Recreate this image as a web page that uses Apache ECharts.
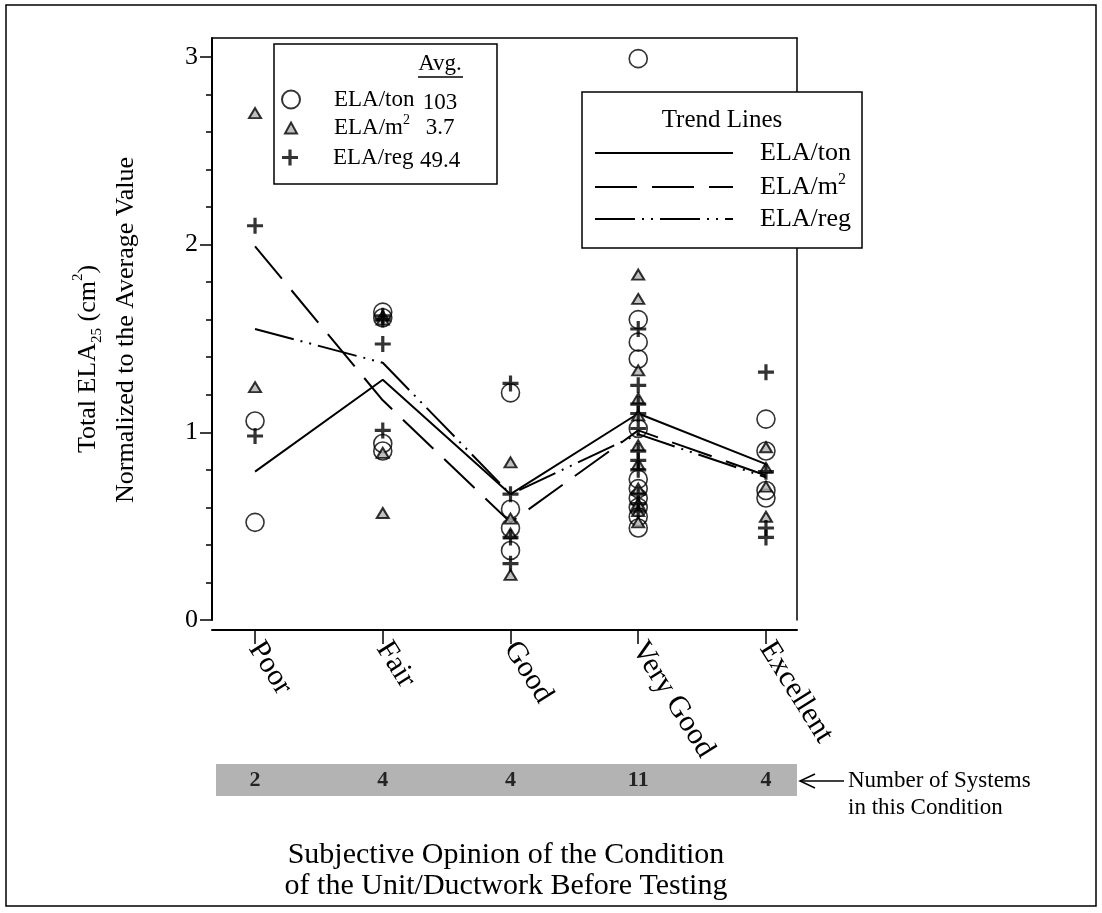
<!DOCTYPE html>
<html><head><meta charset="utf-8">
<script src="https://cdn.jsdelivr.net/npm/echarts@6/dist/echarts.min.js"></script>
<style>html,body{margin:0;padding:0;background:#fff}#c{width:1102px;height:913px}</style>
</head><body><div id="c"></div>
<script>
// ---------- data ----------
const categories = ['Poor', 'Fair', 'Good', 'Very Good', 'Excellent'];
const systemCounts = [2, 4, 4, 11, 4];
const elaTon = [
  [1.06, 0.52],
  [1.64, 1.61, 0.94, 0.90],
  [1.21, 0.59, 0.49, 0.37],
  [2.99, 1.60, 1.48, 1.39, 1.02, 0.75, 0.70, 0.65, 0.60, 0.55, 0.49],
  [1.07, 0.90, 0.69, 0.65]
];
const elaM2 = [
  [2.70, 1.24],
  [1.62, 1.60, 0.89, 0.57],
  [0.84, 0.54, 0.46, 0.24],
  [1.84, 1.71, 1.33, 1.18, 1.09, 0.93, 0.83, 0.70, 0.62, 0.58, 0.52],
  [0.92, 0.81, 0.71, 0.55]
];
const elaReg = [
  [2.10, 0.98],
  [1.62, 1.60, 1.47, 1.01],
  [1.26, 0.67, 0.44, 0.30],
  [1.55, 1.25, 1.15, 1.10, 1.02, 0.90, 0.85, 0.80, 0.67, 0.62, 0.58],
  [1.32, 0.79, 0.49, 0.44]
];
const trendTon = [0.79, 1.28, 0.67, 1.10, 0.83];
const trendM2 = [1.99, 1.17, 0.52, 1.01, 0.77];
const trendReg = [1.55, 1.37, 0.67, 0.99, 0.76];
const seriesNames = ['ELA/ton', 'ELA/m2', 'ELA/reg'];
const averages = ['103', '3.7', '49.4'];
const yMajorTicks = [0, 1, 2, 3];
const yMinorTicks = [0.2, 0.4, 0.6, 0.8, 1.2, 1.4, 1.6, 1.8, 2.2, 2.4, 2.6, 2.8];
const categoryPositions = [1, 2, 3, 4, 5];

// ---------- helpers ----------
const FONT = 'Liberation Serif';
const X_MIN = 0.663, X_MAX = 5.243, Y_MIN = 0, Y_MAX = 3.1;
const toPoints = arr => arr.flatMap((vals, i) => vals.map(v => [categoryPositions[i], v]));
const toLine = arr => arr.map((v, i) => [categoryPositions[i], v]);
const PLUS = 'path://M8,0H12V8H20V12H12V20H8V12H0V8H8Z';
const rich = (pad, fs) => ({
  t: {fontFamily: FONT, fontSize: fs, color: '#000', lineHeight: 30, padding: [0, 0, 0, pad]},
  s: {fontFamily: FONT, fontSize: Math.round(fs * 0.6), color: '#000', verticalAlign: 'top', lineHeight: 30}
});
const labelText = n => n === 'ELA/m2' ? '{t|ELA/m}{s|2}' : '{t|' + n + '}';

// legend rows (icon centre x = 290, text start x = 333)
const avgRows = [
  {size: [18, 18], top: 88},
  {size: [12, 11], top: 113},
  {size: [16, 16], top: 146}
];
function avgLegend(i) {
  const w = avgRows[i].size[0], h = avgRows[i].size[1];
  const left = 290 - w / 2;
  return {
    data: [seriesNames[i]], orient: 'vertical', left: left, top: avgRows[i].top, padding: 0,
    itemWidth: w, itemHeight: h, selectedMode: false,
    formatter: labelText,
    textStyle: {rich: rich(333 - (left + w + 5), 23)}
  };
}
const rowCentres = [103, 128, 161];

const chart = echarts.init(document.getElementById('c'), null, {renderer: 'canvas'});
const option = {
  animation: false,
  backgroundColor: '#fff',
  grid: [
    {left: 212, top: 38, width: 585, height: 582, outerBoundsMode: 'none'},
    {left: 216, top: 764, width: 581, height: 32, show: true, backgroundColor: '#b3b3b3', borderWidth: 0, outerBoundsMode: 'none'}
  ],
  xAxis: [
    {type: 'value', gridIndex: 0, min: X_MIN, max: X_MAX, position: 'bottom', offset: 10,
     axisLine: {show: true, onZero: false, lineStyle: {color: '#000', width: 2}},
     axisTick: {show: true, customValues: categoryPositions, length: 14, lineStyle: {color: '#000', width: 1.5}},
     axisLabel: {show: true, customValues: categoryPositions, rotate: -58, margin: 14,
       formatter: v => categories[Math.round(v) - 1] || '',
       fontFamily: FONT, fontSize: 30, color: '#000'},
     splitLine: {show: false}},
    {type: 'value', gridIndex: 0, min: X_MIN, max: X_MAX, position: 'top',
     axisLine: {show: true, onZero: false, lineStyle: {color: '#000', width: 1.5}},
     axisTick: {show: false}, axisLabel: {show: false}, splitLine: {show: false}},
    {type: 'value', gridIndex: 1, min: X_MIN + 4 / 585 * (X_MAX - X_MIN), max: X_MAX, show: false, splitLine: {show: false}}
  ],
  yAxis: [
    {type: 'value', gridIndex: 0, min: Y_MIN, max: Y_MAX, position: 'left',
     axisLine: {show: true, onZero: false, lineStyle: {color: '#000', width: 2}},
     axisTick: {show: true, customValues: yMajorTicks, length: 12, lineStyle: {color: '#000', width: 1.5}},
     axisLabel: {show: true, customValues: yMajorTicks, margin: 14, fontFamily: FONT, fontSize: 26, color: '#000'},
     splitLine: {show: false}},
    {type: 'value', gridIndex: 0, min: Y_MIN, max: Y_MAX, position: 'left',
     axisLine: {show: false},
     axisTick: {show: true, customValues: yMinorTicks, length: 6, lineStyle: {color: '#000', width: 1.5}},
     axisLabel: {show: false}, splitLine: {show: false}},
    {type: 'value', gridIndex: 0, min: Y_MIN, max: Y_MAX, position: 'right',
     axisLine: {show: true, onZero: false, lineStyle: {color: '#000', width: 1.5}},
     axisTick: {show: false}, axisLabel: {show: false}, splitLine: {show: false}},
    {type: 'value', gridIndex: 1, min: 0, max: 1, show: false, splitLine: {show: false}}
  ],
  legend: [
    avgLegend(0), avgLegend(1), avgLegend(2),
    {data: ['Trend ELA/ton', 'Trend ELA/m2', 'Trend ELA/reg'], orient: 'vertical',
     left: 594, top: 140, padding: 0, itemWidth: 138, itemHeight: 14, itemGap: 6, selectedMode: false,
     itemStyle: {opacity: 0},
     formatter: n => labelText(n.replace('Trend ', '')),
     textStyle: {rich: rich(22, 26)}}
  ],
  series: [
    {name: 'Trend ELA/ton', type: 'line', xAxisIndex: 0, yAxisIndex: 0, data: toLine(trendTon),
     symbol: 'none', silent: true, z: 3, itemStyle: {color: 'rgba(0,0,0,0)'},
     lineStyle: {color: '#000', width: 2, type: 'solid'}},
    {name: 'Trend ELA/m2', type: 'line', xAxisIndex: 0, yAxisIndex: 0, data: toLine(trendM2),
     symbol: 'none', silent: true, z: 3, itemStyle: {color: 'rgba(0,0,0,0)'},
     lineStyle: {color: '#000', width: 2, type: [42, 15]}},
    {name: 'Trend ELA/reg', type: 'line', xAxisIndex: 0, yAxisIndex: 0, data: toLine(trendReg),
     symbol: 'none', silent: true, z: 3, itemStyle: {color: 'rgba(0,0,0,0)'},
     lineStyle: {color: '#000', width: 2, type: [40, 7, 2, 7, 2, 7]}},
    {name: 'ELA/ton', type: 'scatter', xAxisIndex: 0, yAxisIndex: 0, data: toPoints(elaTon),
     symbol: 'circle', symbolSize: 18, silent: true, z: 4,
     itemStyle: {color: 'rgba(255,255,255,0)', borderColor: '#000', borderWidth: 1.6}},
    {name: 'ELA/m2', type: 'scatter', xAxisIndex: 0, yAxisIndex: 0, data: toPoints(elaM2),
     symbol: 'triangle', symbolSize: [12, 10], silent: true, z: 5,
     itemStyle: {color: '#b0b0b0', borderColor: '#000', borderWidth: 2}},
    {name: 'ELA/reg', type: 'scatter', xAxisIndex: 0, yAxisIndex: 0, data: toPoints(elaReg),
     symbol: PLUS, symbolSize: 16, silent: true, z: 5,
     itemStyle: {color: '#000'}},
    {name: 'counts', type: 'scatter', xAxisIndex: 2, yAxisIndex: 3,
     data: systemCounts.map((c, i) => [categoryPositions[i], 0.5, c]),
     symbolSize: 1, silent: true, itemStyle: {color: 'rgba(0,0,0,0)'},
     label: {show: true, position: 'inside', formatter: p => String(p.value[2]),
       fontFamily: FONT, fontSize: 22, fontWeight: 'bold', color: '#000'}}
  ],
  graphic: [
    {type: 'rect', z: 0, shape: {x: 6, y: 5, width: 1090, height: 901},
     style: {fill: 'none', stroke: '#000', lineWidth: 1.5}},
    {type: 'rect', z: 1, shape: {x: 274, y: 44, width: 223, height: 140},
     style: {fill: '#fff', stroke: '#000', lineWidth: 1.5}},
    {type: 'text', z: 2, x: 440, y: 64,
     style: {text: 'Avg.', fontFamily: FONT, fontSize: 23, fill: '#000', align: 'center', verticalAlign: 'middle'}},
    {type: 'line', z: 2, shape: {x1: 418, y1: 77, x2: 463, y2: 77}, style: {stroke: '#000', lineWidth: 1.5}},
    ...averages.map((a, i) => ({type: 'text', z: 2, x: 440, y: rowCentres[i],
      style: {text: a, fontFamily: FONT, fontSize: 23, fill: '#000', align: 'center', verticalAlign: 'middle'}})),
    {type: 'rect', z: 1, shape: {x: 582, y: 92, width: 280, height: 156},
     style: {fill: '#fff', stroke: '#000', lineWidth: 1.5}},
    {type: 'text', z: 2, x: 722, y: 120,
     style: {text: 'Trend Lines', fontFamily: FONT, fontSize: 25, fill: '#000', align: 'center', verticalAlign: 'middle'}},
    {type: 'text', z: 2, x: 88, y: 359, rotation: Math.PI / 2,
     style: {text: '{a|Total ELA}{b|25}{a| (cm}{c|2}{a|)}', align: 'center', verticalAlign: 'middle',
       rich: {a: {fontFamily: FONT, fontSize: 26, fill: '#000', lineHeight: 34},
              b: {fontFamily: FONT, fontSize: 15, fill: '#000', verticalAlign: 'bottom', lineHeight: 34},
              c: {fontFamily: FONT, fontSize: 15, fill: '#000', verticalAlign: 'top', lineHeight: 34}}}},
    {type: 'text', z: 2, x: 126, y: 330, rotation: Math.PI / 2,
     style: {text: 'Normalized to the Average Value', fontFamily: FONT, fontSize: 26, fill: '#000',
       align: 'center', verticalAlign: 'middle'}},
    {type: 'text', z: 2, x: 506, y: 855,
     style: {text: 'Subjective Opinion of the Condition', fontFamily: FONT, fontSize: 30, fill: '#000',
       align: 'center', verticalAlign: 'middle'}},
    {type: 'text', z: 2, x: 506, y: 886,
     style: {text: 'of the Unit/Ductwork Before Testing', fontFamily: FONT, fontSize: 30, fill: '#000',
       align: 'center', verticalAlign: 'middle'}},
    {type: 'line', z: 2, shape: {x1: 800, y1: 781, x2: 844, y2: 781}, style: {stroke: '#000', lineWidth: 1.5}},
    {type: 'polyline', z: 2, shape: {points: [[815, 774], [800, 781], [815, 788]]},
     style: {stroke: '#000', lineWidth: 1.5, fill: 'none'}},
    {type: 'text', z: 2, x: 848, y: 781,
     style: {text: 'Number of Systems', fontFamily: FONT, fontSize: 23, fill: '#000', align: 'left', verticalAlign: 'middle'}},
    {type: 'text', z: 2, x: 848, y: 808,
     style: {text: 'in this Condition', fontFamily: FONT, fontSize: 23, fill: '#000', align: 'left', verticalAlign: 'middle'}}
  ]
};
chart.setOption(option);
</script></body></html>
